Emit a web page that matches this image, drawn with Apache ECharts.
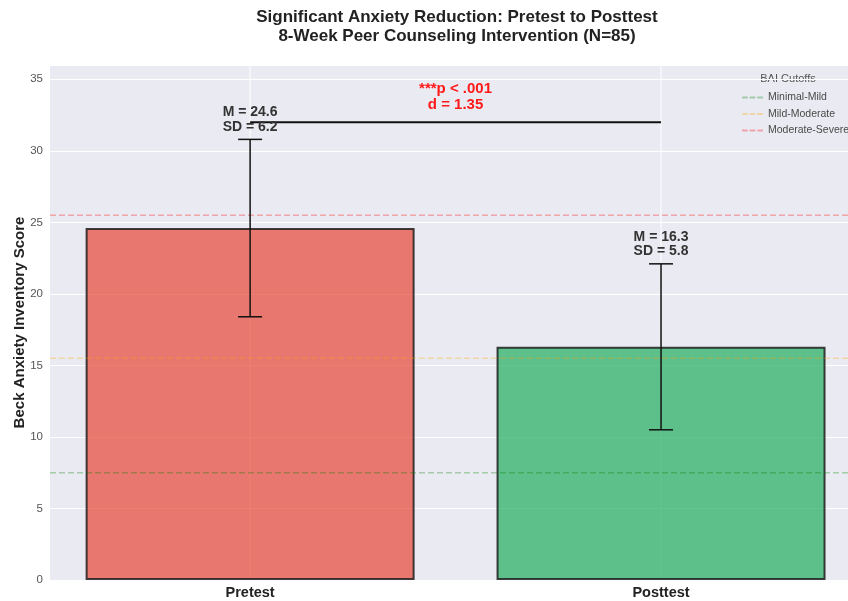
<!DOCTYPE html>
<html>
<head>
<meta charset="utf-8">
<script src="https://cdn.jsdelivr.net/npm/echarts@6/dist/echarts.min.js"></script>
<style>html,body{margin:0;padding:0;background:#fff;}#c{width:848px;height:601px;}</style>
</head>
<body>
<div id="c"></div>
<script>
var categories = ['Pretest', 'Posttest'];
var means = [24.6, 16.3];
var sds = [6.2, 5.8];
var barColors = ['rgba(231,76,60,0.72)', 'rgba(39,174,96,0.72)'];
var cutoffNames = ['Minimal-Mild', 'Mild-Moderate', 'Moderate-Severe'];
var cutoffValues = [7.5, 15.5, 25.5];
var cutoffColors = ['rgba(0,128,0,0.3)', 'rgba(255,165,0,0.3)', 'rgba(255,0,0,0.3)'];
var sigY = 32;
var sigText = '***p < .001\nd = 1.35';
var xMin = -0.487, xMax = 1.455;

var FONT = '"Liberation Sans", Arial, sans-serif';
var chart = echarts.init(document.getElementById('c'));

var series = [];
series.push({
  type: 'custom', z: 1, silent: true,
  data: categories.map(function (c, i) { return [i]; }),
  renderItem: function (params, api) {
    var x = api.value(0);
    var p1 = api.coord([x, 0]);
    var cs = params.coordSys;
    return { type: 'line', shape: { x1: p1[0], y1: cs.y, x2: p1[0], y2: cs.y + cs.height },
      style: { stroke: '#ffffff', lineWidth: 1 } };
  }
});
series.push({
  type: 'bar', z: 2, barWidth: 329,
  data: categories.map(function (c, i) {
    return { value: [i, means[i]], itemStyle: { color: barColors[i], borderColor: 'rgba(30,30,30,0.85)', borderWidth: 2 } };
  })
});
series.push({
  type: 'custom', z: 4, silent: true,
  data: categories.map(function (c, i) { return [i, means[i], sds[i]]; }),
  renderItem: function (params, api) {
    var x = api.value(0), m = api.value(1), s = api.value(2);
    var t = api.coord([x, m + s]), b = api.coord([x, m - s]);
    var st = { stroke: '#111', lineWidth: 1.5 };
    return { type: 'group', children: [
      { type: 'line', shape: { x1: t[0], y1: t[1], x2: b[0], y2: b[1] }, style: st },
      { type: 'line', shape: { x1: t[0] - 12, y1: t[1], x2: t[0] + 12, y2: t[1] }, style: st },
      { type: 'line', shape: { x1: b[0] - 12, y1: b[1], x2: b[0] + 12, y2: b[1] }, style: st }
    ] };
  }
});
series.push({
  type: 'custom', z: 5, silent: true,
  data: categories.map(function (c, i) { return [i, means[i], sds[i]]; }),
  renderItem: function (params, api) {
    var x = api.value(0), m = api.value(1), s = api.value(2);
    var p = api.coord([x, m + s + 0.35]);
    return { type: 'text', x: p[0], y: p[1],
      style: { text: 'M = ' + m.toFixed(1) + '\nSD = ' + s.toFixed(1), align: 'center', verticalAlign: 'bottom',
        fill: '#333', font: 'bold 14px ' + FONT, lineHeight: 14.5 } };
  }
});
series.push({
  type: 'line', z: 4, silent: true, symbol: 'none',
  data: [[0, sigY], [1, sigY]],
  lineStyle: { color: '#111', width: 2 }
});
series.push({
  type: 'custom', z: 5, silent: true,
  data: [[0.5, sigY]],
  renderItem: function (params, api) {
    var p = api.coord([api.value(0), api.value(1) + 0.7]);
    return { type: 'text', x: p[0], y: p[1],
      style: { text: sigText, align: 'center', verticalAlign: 'bottom', fill: '#ff1a1a', font: 'bold 15px ' + FONT, lineHeight: 15.5 } };
  }
});
cutoffNames.forEach(function (n, i) {
  series.push({
    name: n, type: 'line', z: 3, silent: true, symbol: 'none', showSymbol: false,
    data: [[xMin, cutoffValues[i]], [xMax, cutoffValues[i]]],
    lineStyle: { color: cutoffColors[i], width: 1.5, type: [6, 3] },
    itemStyle: { color: cutoffColors[i] }
  });
});

chart.setOption({
  animation: false,
  textStyle: { fontFamily: FONT },
  grid: { left: 50, top: 65, right: 0, bottom: 21, show: true, backgroundColor: '#EAEAF2', borderWidth: 0 },
  xAxis: {
    type: 'value', min: xMin, max: xMax,
    axisLine: { show: false }, axisTick: { show: false }, splitLine: { show: false },
    axisLabel: { customValues: categories.map(function (c, i) { return i; }),
      formatter: function (v) { return categories[Math.round(v)]; },
      color: '#222', fontWeight: 'bold', fontSize: 14.5, margin: 5 }
  },
  yAxis: {
    type: 'value', min: 0, max: 36, interval: 5,
    name: 'Beck Anxiety Inventory Score', nameLocation: 'middle', nameGap: 23, nameMoveOverlap: false,
    nameTextStyle: { color: '#222', fontWeight: 'bold', fontSize: 15 },
    axisLine: { show: false }, axisTick: { show: false },
    splitLine: { lineStyle: { color: '#ffffff', width: 1 } },
    axisLabel: { color: '#555', fontSize: 11.5, margin: 7, showMaxLabel: false }
  },
  legend: {
    data: cutoffNames.map(function (n) { return { name: n, icon: 'path://M0,4h6v2H0z M8,4h6v2H8z M16,4h6v2H16z' }; }),
    orient: 'vertical', left: 737, top: 87,
    itemWidth: 21, itemHeight: 11, itemGap: 5.5,
    textStyle: { color: '#4a4a4a', fontSize: 10.5 }, selectedMode: false
  },
  graphic: [
    { type: 'text', x: 457, y: 8, style: { text: 'Significant Anxiety Reduction: Pretest to Posttest\n8-Week Peer Counseling Intervention (N=85)',
      align: 'center', verticalAlign: 'top', fill: '#222', font: 'bold 17px ' + FONT, lineHeight: 19 } },
    { type: 'text', x: 788, y: 79, style: { text: 'BAI Cutoffs', align: 'center', verticalAlign: 'middle', fill: '#555', font: '11px ' + FONT } }
  ],
  series: series
});
</script>
</body>
</html>
